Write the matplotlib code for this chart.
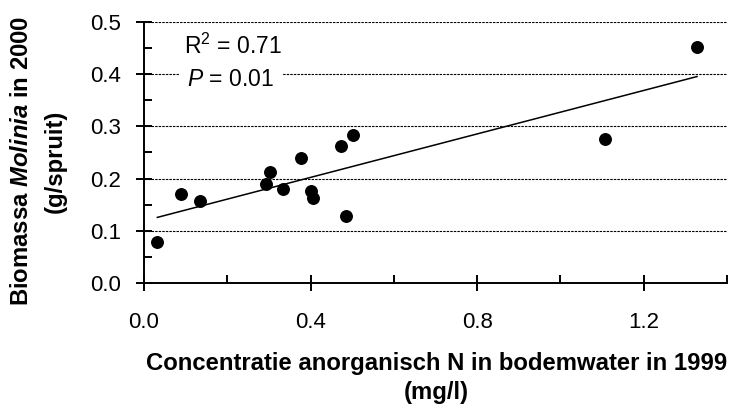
import numpy as np
import matplotlib
matplotlib.use("Agg")
import matplotlib.pyplot as plt
from matplotlib.ticker import MultipleLocator

plt.rcParams['font.family'] = ['Liberation Sans', 'DejaVu Sans']
plt.rcParams['mathtext.fontset'] = 'custom'
plt.rcParams['mathtext.rm'] = 'Liberation Sans'
plt.rcParams['mathtext.it'] = 'Liberation Sans:italic'
plt.rcParams['mathtext.bf'] = 'Liberation Sans:bold'
plt.rcParams['mathtext.bfit'] = 'Liberation Sans:bold:italic'

# N concentration in soil water 1999 (mg/l) vs Molinia biomass 2000 (g/shoot)
n_conc = [0.032, 0.089, 0.134, 0.294, 0.302, 0.334, 0.377, 0.400,
          0.405, 0.472, 0.502, 0.486, 1.108, 1.328]
biomass = [0.079, 0.171, 0.156, 0.190, 0.213, 0.179, 0.240, 0.176,
           0.163, 0.263, 0.283, 0.129, 0.275, 0.452]
r2_text = 'R$^2$ = 0.71'
p_text = '$\\mathit{P}$ = 0.01 '

x = np.array(n_conc)
y = np.array(biomass)
slope, icept = np.polyfit(x, y, 1)
xfit = np.array([x.min(), x.max()])

fig = plt.figure(figsize=(7.31, 4.08), dpi=100)
ax = fig.add_axes([144 / 731, 1 - 282.7 / 408, (727 - 144) / 731, (282.7 - 22.3) / 408])

ax.set_xlim(0, 1.4)
ax.set_ylim(0, 0.5)

# dashed horizontal grid
for gy in [0.1, 0.2, 0.3, 0.4, 0.5]:
    ax.axhline(gy, color='black', lw=0.8, ls=(0, (2.2, 1.0)), zorder=1)

ax.plot(xfit, icept + slope * xfit, color='black', lw=1.1, zorder=2)
ax.plot(x, y, 'o', color='black', ms=8.3, zorder=3)

ax.text(0.096, 0.439, r2_text, fontsize=16.5, va='baseline', ha='left', zorder=4)
ax.text(0.104, 0.377, p_text, fontsize=16.5, va='baseline', ha='left', zorder=4,
        bbox=dict(fc='white', ec='none', pad=5))

for side in ['top', 'right']:
    ax.spines[side].set_visible(False)
for side in ['left', 'bottom']:
    ax.spines[side].set_linewidth(1.4)

ax.xaxis.set_major_locator(MultipleLocator(0.4))
ax.xaxis.set_minor_locator(MultipleLocator(0.2))
ax.yaxis.set_major_locator(MultipleLocator(0.1))
ax.yaxis.set_minor_locator(MultipleLocator(0.05))
ax.xaxis.set_major_formatter(lambda v, pos: f'{v:.1f}')
ax.yaxis.set_major_formatter(lambda v, pos: f'{v:.1f}')

ax.tick_params(which='major', direction='inout', length=11.5, width=1.4,
               labelsize=16)
ax.tick_params(which='minor', direction='in', length=5.5, width=1.4)
ax.tick_params(axis='x', which='major', pad=15)
ax.tick_params(axis='y', which='major', pad=11)

fig.text(22 / 731, 1 - 161 / 408, 'Biomassa $\\mathbfit{Molinia}$ in 2000',
         rotation=90, ha='center', va='center', fontsize=17.2, fontweight='bold')
fig.text(55 / 731, 1 - 161 / 408, '(g/spruit)',
         rotation=90, ha='center', va='center', fontsize=17.2, fontweight='bold')

fig.text(436.5 / 731, 1 - 370 / 408, 'Concentratie anorganisch N in bodemwater in 1999',
         ha='center', va='baseline', fontsize=17.2, fontweight='bold')
fig.text(436.5 / 731, 1 - 399 / 408, '(mg/l)',
         ha='center', va='baseline', fontsize=17.2, fontweight='bold')

fig.savefig('out.png', dpi=100)
